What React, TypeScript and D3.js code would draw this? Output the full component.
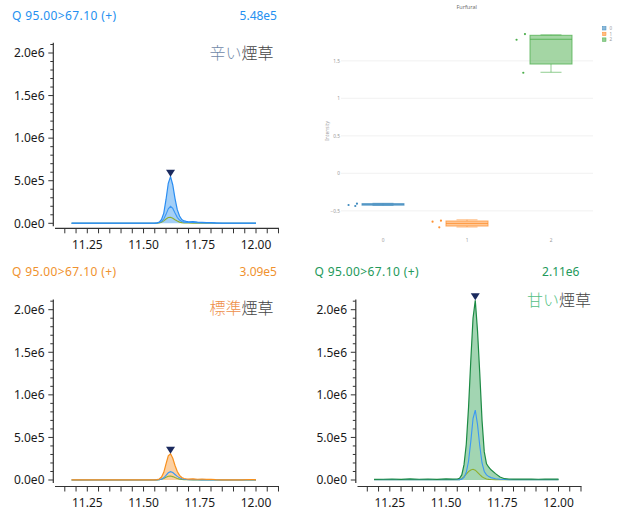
import React from "react";
import * as d3 from "d3";

// ---------- chromatogram data ----------
const times = [11.18, 11.22, 11.26, 11.3, 11.34, 11.38, 11.42, 11.46, 11.5, 11.53, 11.55, 11.56, 11.57, 11.58, 11.59, 11.6, 11.61, 11.62, 11.63, 11.64, 11.65, 11.66, 11.67, 11.68, 11.69, 11.7, 11.72, 11.74, 11.76, 11.78, 11.8, 11.82, 11.85, 11.88, 11.91, 11.94, 11.97, 11.99, 12.0];

const spicyMain = [2000, 1500, 2000, 1500, 2000, 1500, 2000, 1500, 2000, 2000, 3000, 6000, 15000, 45000, 120000, 280000, 470000, 548000, 450000, 290000, 160000, 85000, 45000, 28000, 22000, 18000, 20000, 14000, 11000, 9000, 8000, 5000, 2500, 2000, 2000, 1500, 2000, 1500, 1500];
const spicyBlue = [1000, 1000, 1000, 1000, 1000, 1000, 1000, 1000, 1000, 1000, 2000, 4000, 9000, 22000, 50000, 105000, 170000, 200000, 175000, 120000, 70000, 38000, 22000, 14000, 10000, 9000, 10000, 7000, 5000, 4000, 3000, 2000, 1000, 1000, 1000, 1000, 1000, 1000, 1000];
const spicyOlive = [500, 500, 500, 500, 500, 500, 500, 500, 500, 500, 800, 2000, 5000, 12000, 28000, 50000, 68000, 70000, 60000, 42000, 26000, 14000, 8000, 5000, 3500, 3000, 2500, 2000, 1000, 800, 500, 500, 500, 500, 500, 500, 500, 500, 500];

const standardMain = [1500, 1500, 1500, 1500, 1500, 1500, 1500, 1500, 1500, 1500, 2500, 5000, 12000, 35000, 90000, 190000, 285000, 309000, 255000, 170000, 100000, 55000, 30000, 18000, 13000, 11000, 14000, 9000, 12000, 7000, 9000, 4000, 2500, 2000, 2500, 1500, 6000, 5000, 2000];
const standardBlue = [800, 800, 800, 800, 800, 800, 800, 800, 800, 800, 1000, 2000, 4000, 10000, 26000, 55000, 85000, 98000, 88000, 65000, 42000, 25000, 15000, 9000, 6000, 4500, 4000, 3000, 2000, 1500, 1000, 800, 800, 800, 800, 800, 800, 800, 800];
const standardOlive = [500, 500, 500, 500, 500, 500, 500, 500, 500, 500, 700, 1200, 3000, 8000, 18000, 33000, 45000, 47000, 40000, 28000, 17000, 10000, 6000, 4000, 3000, 2500, 2000, 1500, 1000, 800, 500, 500, 500, 500, 500, 500, 500, 500, 500];

const sweetMain = [8000, 9000, 12000, 8000, 13000, 9000, 12000, 8000, 13000, 10000, 12000, 20000, 60000, 180000, 420000, 850000, 1400000, 1900000, 2110000, 1750000, 1250000, 700000, 330000, 190000, 150000, 120000, 75000, 35000, 15000, 12000, 10000, 12000, 10000, 12000, 9000, 11000, 10000, 12000, 11000];
const sweetBlue = [3000, 3000, 3000, 3000, 3000, 3000, 3000, 3000, 3000, 3000, 3000, 4000, 10000, 30000, 90000, 220000, 450000, 720000, 820000, 650000, 400000, 200000, 100000, 60000, 40000, 28000, 15000, 8000, 5000, 3000, 3000, 3000, 3000, 3000, 3000, 3000, 3000, 3000, 3000];
const sweetOlive = [3000, 3000, 3000, 3000, 3000, 3000, 3000, 3000, 3000, 3000, 3000, 3000, 15000, 40000, 70000, 98000, 118000, 126000, 115000, 90000, 62000, 38000, 22000, 12000, 7000, 5000, 3500, 3000, 3000, 3000, 3000, 3000, 3000, 3000, 3000, 3000, 3000, 3000, 3000];

const peakLabels = ["5.48e5", "3.09e5", "2.11e6"];
const headerText = "Q 95.00>67.10 (+)";

const yTickValues = [0, 500000, 1000000, 1500000, 2000000];
const yTickLabels = ["0.0e0", "5.0e5", "1.0e6", "1.5e6", "2.0e6"];
const xTickValues = [11.25, 11.5, 11.75, 12.0];
const xTickLabels = ["11.25", "11.50", "11.75", "12.00"];

// ---------- box plot data ----------
const boxCategories = [0, 1, 2];
const boxLegend = ["0", "1", "2"];
const boxLower = [-0.428, -0.716, 1.347];
const boxQ1 = [-0.42, -0.703, 1.457];
const boxMedian = [-0.413, -0.669, 1.787];
const boxQ3 = [-0.405, -0.636, 1.84];
const boxUpper = [-0.4, -0.62, 1.846];
const boxPoints = [[-0.423, -0.436, -0.405], [-0.645, -0.632, -0.72], [1.781, 1.857, 1.341]];
const boxJitter = [[-0.41, -0.33, -0.31], [-0.41, -0.31, -0.33], [-0.41, -0.31, -0.33]];
const boxYTicks = [-0.5, 0, 0.5, 1, 1.5];
const boxYTickLabels = ["\u22120.5", "0", "0.5", "1", "1.5"];
const boxColors = ["#1f77b4", "#ff7f0e", "#2ca02c"];

const FONT = "'Noto Sans', 'DejaVu Sans', sans-serif";
const CJK = "'Noto Sans CJK JP', sans-serif";

type PanelProps = {
  ox: number;
  oy: number;
  main: number[];
  blue: number[];
  olive: number[];
  lineColor: string;
  fillColor: string;
  headColor: string;
  peakLabel: string;
  tagA: string;
  tagColor: string;
  tagX: number;
  tagY: number;
  axisGap: number;
};

function Chrom(p: PanelProps) {
  const x = d3.scaleLinear().domain([11.25, 12.0]).range([87.3, 256]);
  const y = d3.scaleLinear().domain([0, 2000000]).range([223.3, 53]);
  const line = (vals: number[]) =>
    d3.line<number>().x((_, i) => x(times[i])).y((v) => y(v))(vals) || "";
  const area = d3
    .area<number>()
    .x((_, i) => x(times[i]))
    .y0(y(0))
    .y1((v) => y(v))(p.main) || "";
  const peakIdx = d3.maxIndex(p.main);
  const px = x(times[peakIdx]);
  const py = y(p.main[peakIdx]);
  const minorY = d3.range(0, 2100001, 100000);
  const minorX = d3.range(11.15, 12.101, 0.05);
  const axisY = y(0) + p.axisGap;
  return (
    <g transform={`translate(${p.ox},${p.oy})`} fontFamily={FONT}>
      <text x={12} y={19.5} fontSize={12} fill={p.headColor} textLength={104} lengthAdjust="spacing">{headerText}</text>
      <text x={277} y={19.5} fontSize={12} fill={p.headColor} textAnchor="end">{p.peakLabel}</text>
      <text x={p.tagX} y={p.tagY} fontSize={16} textAnchor="end" fontFamily={CJK} fontWeight={300}>
        <tspan fill={p.tagColor}>{p.tagA}</tspan>
        <tspan fill="#444">煙草</tspan>
      </text>
      <path d={area} fill={p.fillColor} />
      <path d={line(p.olive)} fill="none" stroke="#8fae2e" strokeWidth={1.1} />
      <path d={line(p.blue)} fill="none" stroke="#3a97f5" strokeWidth={1.1} />
      <path d={line(p.main)} fill="none" stroke={p.lineColor} strokeWidth={1.2} />
      <path d={`M${px - 4.5},${py - 7}L${px + 4.5},${py - 7}L${px},${py}Z`} fill="#1b2a5e" />
      {/* y axis */}
      <line x1={53.3} x2={53.3} y1={y(2120000)} y2={y(0) + 3} stroke="#333" strokeWidth={1.2} />
      {minorY.map((v) => {
        const major = v % 500000 === 0;
        return <line key={v} x1={53.3 - (major ? 5 : 3)} x2={53.3} y1={y(v)} y2={y(v)} stroke="#333" strokeWidth={1} />;
      })}
      {yTickValues.map((v, i) => (
        <text key={v} x={44.5} y={y(v) + 4.3} fontSize={12} textAnchor="end" fill="#1a1a1a">{yTickLabels[i]}</text>
      ))}
      {/* x axis */}
      <line x1={55} x2={279} y1={axisY} y2={axisY} stroke="#333" strokeWidth={1.2} />
      {minorX.map((v) => (
        <line key={v} x1={x(v)} x2={x(v)} y1={axisY} y2={axisY + 5} stroke="#333" strokeWidth={1} />
      ))}
      {xTickValues.map((v, i) => (
        <text key={v} x={x(v)} y={axisY + 21} fontSize={12} textAnchor="middle" fill="#1a1a1a">{xTickLabels[i]}</text>
      ))}
    </g>
  );
}

function BoxPanel() {
  const x = d3.scaleLinear().domain([-0.5, 2.5]).range([341, 593]);
  const y = d3.scaleLinear().domain([-0.8, 2.0]).range([233.3, 23.3]);
  const bw = 0.25;
  return (
    <g fontFamily={FONT} opacity={0.85}>
      <text x={466.7} y={8.5} fontSize={5.5} textAnchor="middle" fill="#555">Furfural</text>
      {boxYTicks.map((v, i) => (
        <g key={v}>
          <line x1={x(-0.5)} x2={x(2.5)} y1={y(v)} y2={y(v)} stroke="#ececec" strokeWidth={0.8} />
          <text x={340} y={y(v) + 1.8} fontSize={4.8} textAnchor="end" fill="#888">{boxYTickLabels[i]}</text>
        </g>
      ))}
      {boxCategories.map((c) => (
        <text key={c} x={x(c)} y={241.5} fontSize={4.8} textAnchor="middle" fill="#888">{boxLegend[c]}</text>
      ))}
      <text transform={`translate(328.5,131) rotate(-90)`} fontSize={4.8} textAnchor="middle" fill="#888">Intensity</text>
      {boxCategories.map((c) => {
        const col = boxColors[c];
        const x0 = x(c - bw);
        const x1 = x(c + bw);
        const wx0 = x(c - bw / 2);
        const wx1 = x(c + bw / 2);
        return (
          <g key={c}>
            <line x1={x(c)} x2={x(c)} y1={y(boxUpper[c])} y2={y(boxQ3[c])} stroke={col} strokeWidth={1} opacity={0.6} />
            <line x1={x(c)} x2={x(c)} y1={y(boxQ1[c])} y2={y(boxLower[c])} stroke={col} strokeWidth={1} opacity={0.6} />
            <line x1={wx0} x2={wx1} y1={y(boxUpper[c])} y2={y(boxUpper[c])} stroke={col} strokeWidth={1} opacity={0.6} />
            <line x1={wx0} x2={wx1} y1={y(boxLower[c])} y2={y(boxLower[c])} stroke={col} strokeWidth={1} opacity={0.6} />
            <rect x={x0} y={y(boxQ3[c])} width={x1 - x0} height={Math.max(1.5, y(boxQ1[c]) - y(boxQ3[c]))} fill={col} fillOpacity={0.5} stroke={col} strokeOpacity={0.75} strokeWidth={1} />
            <line x1={x0} x2={x1} y1={y(boxMedian[c])} y2={y(boxMedian[c])} stroke={col} strokeWidth={1} opacity={0.8} />
            {boxPoints[c].map((v, j) => (
              <circle key={j} cx={x(c + boxJitter[c][j])} cy={y(v)} r={1.1} fill={col} />
            ))}
          </g>
        );
      })}
      {boxLegend.map((l, i) => (
        <g key={l}>
          <rect x={602.5} y={26.5 + i * 5.7} width={3.5} height={3.5} fill={boxColors[i]} fillOpacity={0.6} stroke={boxColors[i]} strokeWidth={0.5} />
          <text x={609.5} y={29.8 + i * 5.7} fontSize={4.5} fill="#888">{l}</text>
        </g>
      ))}
    </g>
  );
}

export default function App() {
  return (
    <svg width={622} height={513} style={{ position: "absolute", left: 0, top: 0, background: "#fff" }}>
      <rect width={622} height={513} fill="#fff" />
      <Chrom ox={0} oy={0} main={spicyMain} blue={spicyBlue} olive={spicyOlive}
        lineColor="#2a8df2" fillColor="#a3cff7" headColor="#2490f0" peakLabel={peakLabels[0]}
        tagA="辛い" tagColor="#7088a8" tagX={273.5} tagY={59} axisGap={5} />
      <BoxPanel />
      <Chrom ox={0} oy={256.7} main={standardMain} blue={standardBlue} olive={standardOlive}
        lineColor="#f7901e" fillColor="#fcd0a2" headColor="#f0922e" peakLabel={peakLabels[1]}
        tagA="標準" tagColor="#ee8e48" tagX={273.5} tagY={57.5} axisGap={6.5} />
      <Chrom ox={302.5} oy={256.7} main={sweetMain} blue={sweetBlue} olive={sweetOlive}
        lineColor="#1c8a44" fillColor="#a2d5b2" headColor="#23995a" peakLabel={peakLabels[2]}
        tagA="甘い" tagColor="#55bf85" tagX={288.5} tagY={49.3} axisGap={6.5} />
    </svg>
  );
}
